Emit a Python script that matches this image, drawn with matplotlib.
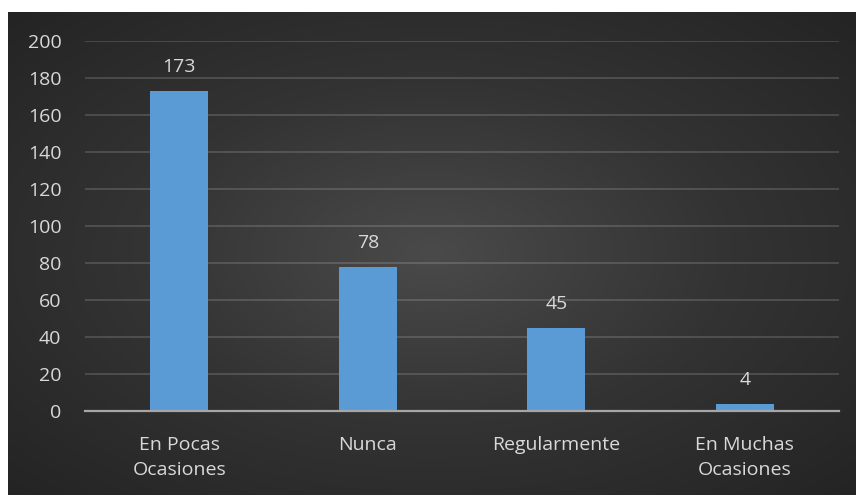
import matplotlib.pyplot as plt
import numpy as np
from matplotlib.colors import LinearSegmentedColormap

categories = ["En Pocas\nOcasiones", "Nunca", "Regularmente", "En Muchas\nOcasiones"]
values = [173, 78, 45, 4]
y_ticks = [0, 20, 40, 60, 80, 100, 120, 140, 160, 180, 200]

W, H = 856, 495
FONT = "Open Sans"
TXT = "#d9d9d9"

fig = plt.figure(figsize=(W / 100, H / 100), dpi=100)
fig.patch.set_facecolor("white")

# dark radial-gradient background (white strip left and top)
bg = fig.add_axes([8 / W, 0, (W - 8) / W, (H - 12) / H])
bg.set_axis_off()
gx, gy = np.meshgrid(np.linspace(-1, 1, 400), np.linspace(-1, 1, 240))
r = np.sqrt(gx ** 2 + gy ** 2) / np.sqrt(2)
bg_cmap = LinearSegmentedColormap.from_list("bg", ["#4a4a4a", "#333333", "#242424"])
bg.imshow(r, cmap=bg_cmap, aspect="auto", extent=[0, 1, 0, 1], vmin=0, vmax=1)

ax = fig.add_axes([85 / W, 84 / H, (839 - 85) / W, 370 / H])
ax.patch.set_alpha(0)

x = np.arange(len(categories))
ax.bar(x, values, width=0.31, color="#5b9bd5", zorder=3)

for xi, v in zip(x, values):
    ax.text(xi, v + 8, str(v), ha="center", va="bottom", color=TXT,
            fontsize=14, family=FONT)

ax.set_xlim(-0.5, len(categories) - 0.5)
ax.set_ylim(0, 200)
ax.set_yticks(y_ticks)
ax.set_yticklabels([str(t) for t in y_ticks], color=TXT, fontsize=14, family=FONT)
ax.set_xticks(x)
ax.set_xticklabels(categories, color=TXT, fontsize=14, family=FONT,
                   linespacing=1.5)
ax.tick_params(axis="both", length=0)
ax.tick_params(axis="y", pad=17)
ax.tick_params(axis="x", pad=18)

ax.grid(axis="y", color="white", alpha=0.16, linewidth=1.3, zorder=0)
for s in ["top", "right", "left"]:
    ax.spines[s].set_visible(False)
ax.spines["bottom"].set_color("#a6a6a6")
ax.spines["bottom"].set_linewidth(1.6)
ax.spines["bottom"].set_zorder(4)

plt.savefig("out.png", dpi=100)
